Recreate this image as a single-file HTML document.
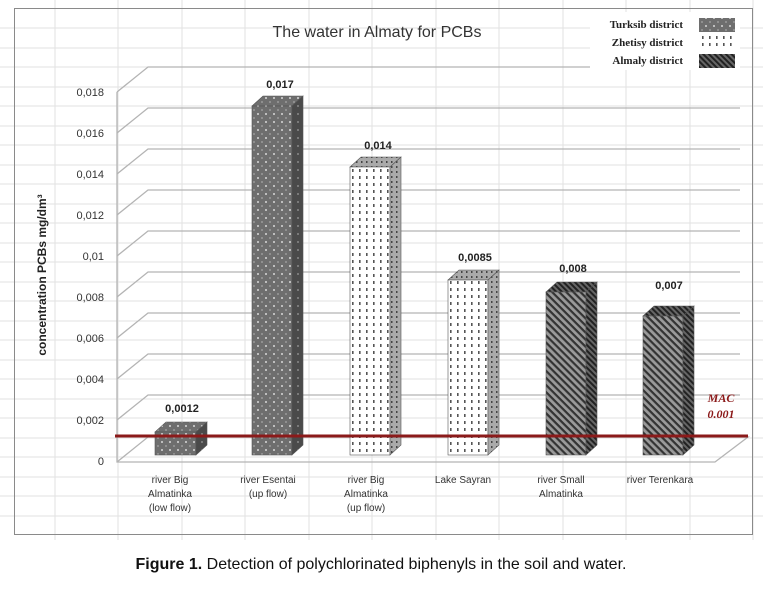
<!DOCTYPE html>
<html><head><style>body{margin:0;background:#fff}svg{display:block}</style></head><body>
<svg width="763" height="591" viewBox="0 0 763 591" xmlns="http://www.w3.org/2000/svg" font-family="Liberation Sans, sans-serif">
<defs>
<pattern id="dots" width="8" height="8" patternUnits="userSpaceOnUse"><rect width="8" height="8" fill="#6e6e6e"/><circle cx="2" cy="2" r="1" fill="#d8d8d8"/><circle cx="6" cy="6" r="1" fill="#9a9a9a"/></pattern>
<pattern id="dotsd" width="8" height="8" patternUnits="userSpaceOnUse"><rect width="8" height="8" fill="#4a4a4a"/><circle cx="2" cy="2" r="1" fill="#888"/></pattern>
<pattern id="vd" width="7" height="7" patternUnits="userSpaceOnUse"><rect width="7" height="7" fill="#fff"/><rect x="2" y="1" width="1.6" height="3" fill="#555"/></pattern>
<pattern id="vdd" width="5" height="5" patternUnits="userSpaceOnUse"><rect width="5" height="5" fill="#aaa"/><rect x="1" y="1" width="1.5" height="2" fill="#444"/></pattern>
<pattern id="diag" width="5" height="5" patternUnits="userSpaceOnUse" patternTransform="rotate(45)"><rect width="5" height="5" fill="#9a9a9a"/><rect width="5" height="2.2" fill="#333"/></pattern>
<pattern id="diagd" width="4" height="4" patternUnits="userSpaceOnUse" patternTransform="rotate(45)"><rect width="4" height="4" fill="#666"/><rect width="4" height="2" fill="#222"/></pattern>
</defs>
<g stroke="#e2e2e2" stroke-width="1">
<path d="M55 0V540M118 0V540M182 0V540M245 0V540M309 0V540M372 0V540M436 0V540M499 0V540M563 0V540M626 0V540M690 0V540M753 0V540"/>
<path d="M0 28H763M0 48H763M0 67H763M0 87H763M0 106H763M0 126H763M0 145H763M0 165H763M0 184H763M0 204H763M0 223H763M0 243H763M0 262H763M0 282H763M0 301H763M0 321H763M0 340H763M0 360H763M0 379H763M0 399H763M0 418H763M0 438H763M0 457H763M0 477H763M0 496H763M0 516H763"/>
</g>
<rect x="14.5" y="8.5" width="738" height="526" fill="none" stroke="#8a8a8a"/>
<g fill="none" stroke="#b4b4b4" stroke-width="1.3">
<path d="M117 92L148 67H740M117 133L148 108H740M117 174L148 149H740M117 215L148 190H740M117 256L148 231H740M117 297L148 272H740M117 338L148 313H740M117 379L148 354H740M117 420L148 395H740"/>
<path d="M117 92V462H715L748 437H148L117 462"/>
</g>
<g font-size="11" fill="#333" text-anchor="end">
<text x="104" y="96">0,018</text><text x="104" y="137">0,016</text><text x="104" y="178">0,014</text><text x="104" y="219">0,012</text><text x="104" y="260">0,01</text><text x="104" y="301">0,008</text><text x="104" y="342">0,006</text><text x="104" y="383">0,004</text><text x="104" y="424">0,002</text><text x="104" y="465">0</text>
</g>
<text transform="translate(46 275) rotate(-90)" font-size="12" font-weight="bold" text-anchor="middle" fill="#222">concentration PCBs mg/dm³</text>
<text x="377" y="37" font-size="16" text-anchor="middle" fill="#333">The water in Almaty for PCBs</text>
<!-- bars -->
<g stroke="#555" stroke-width="0.6">
<polygon points="155,432 166,422 207,422 196,432" fill="url(#dots)"/><rect x="155" y="432" width="41" height="23" fill="url(#dots)"/><polygon points="196,432 207,422 207,445 196,455" fill="url(#dotsd)"/>
<polygon points="252,106 263,96 303,96 292,106" fill="url(#dots)"/><rect x="252" y="106" width="40" height="349" fill="url(#dots)"/><polygon points="292,106 303,96 303,445 292,455" fill="url(#dotsd)"/>
<polygon points="350,167 361,157 401,157 390,167" fill="url(#vdd)"/><rect x="350" y="167" width="40" height="288" fill="url(#vd)"/><polygon points="390,167 401,157 401,445 390,455" fill="url(#vdd)"/>
<polygon points="448,280 459,270 499,270 488,280" fill="url(#vdd)"/><rect x="448" y="280" width="40" height="175" fill="url(#vd)"/><polygon points="488,280 499,270 499,445 488,455" fill="url(#vdd)"/>
<polygon points="546,292 557,282 597,282 586,292" fill="url(#diagd)"/><rect x="546" y="292" width="40" height="163" fill="url(#diag)"/><polygon points="586,292 597,282 597,445 586,455" fill="url(#diagd)"/>
<polygon points="643,316 654,306 694,306 683,316" fill="url(#diagd)"/><rect x="643" y="316" width="40" height="139" fill="url(#diag)"/><polygon points="683,316 694,306 694,445 683,455" fill="url(#diagd)"/>
</g>
<g font-size="11" font-weight="bold" fill="#222" text-anchor="middle">
<text x="182" y="412">0,0012</text><text x="280" y="88">0,017</text><text x="378" y="149">0,014</text><text x="475" y="261">0,0085</text><text x="573" y="272">0,008</text><text x="669" y="289">0,007</text>
</g>
<line x1="115" y1="436" x2="748" y2="436" stroke="#8b1a1a" stroke-width="3"/>
<g font-family="Liberation Serif, serif" font-style="italic" font-weight="bold" font-size="12" fill="#8b1a1a" text-anchor="middle">
<text x="721" y="402">MAC</text><text x="721" y="418">0.001</text></g>
<g font-size="10" fill="#333" text-anchor="middle">
<text x="170" y="483">river Big</text><text x="170" y="497">Almatinka</text><text x="170" y="511">(low flow)</text>
<text x="268" y="483">river Esentai</text><text x="268" y="497">(up flow)</text>
<text x="366" y="483">river Big</text><text x="366" y="497">Almatinka</text><text x="366" y="511">(up flow)</text>
<text x="463" y="483">Lake Sayran</text>
<text x="561" y="483">river Small</text><text x="561" y="497">Almatinka</text>
<text x="660" y="483">river Terenkara</text>
</g>
<rect x="590" y="12" width="150" height="58" fill="#fff"/>
<g font-family="Liberation Serif, serif" font-weight="bold" font-size="11" fill="#222" text-anchor="end">
<text x="683" y="28">Turksib district</text><text x="683" y="46">Zhetisy district</text><text x="683" y="64">Almaly district</text></g>
<rect x="699" y="18" width="36" height="14" fill="url(#dots)"/>
<rect x="699" y="36" width="36" height="14" fill="url(#vd)"/>
<rect x="699" y="54" width="36" height="14" fill="url(#diagd)"/>
<text x="381" y="569" font-size="16" text-anchor="middle" fill="#111"><tspan font-weight="bold">Figure 1.</tspan> Detection of polychlorinated biphenyls in the soil and water.</text>
</svg>
</body></html>
